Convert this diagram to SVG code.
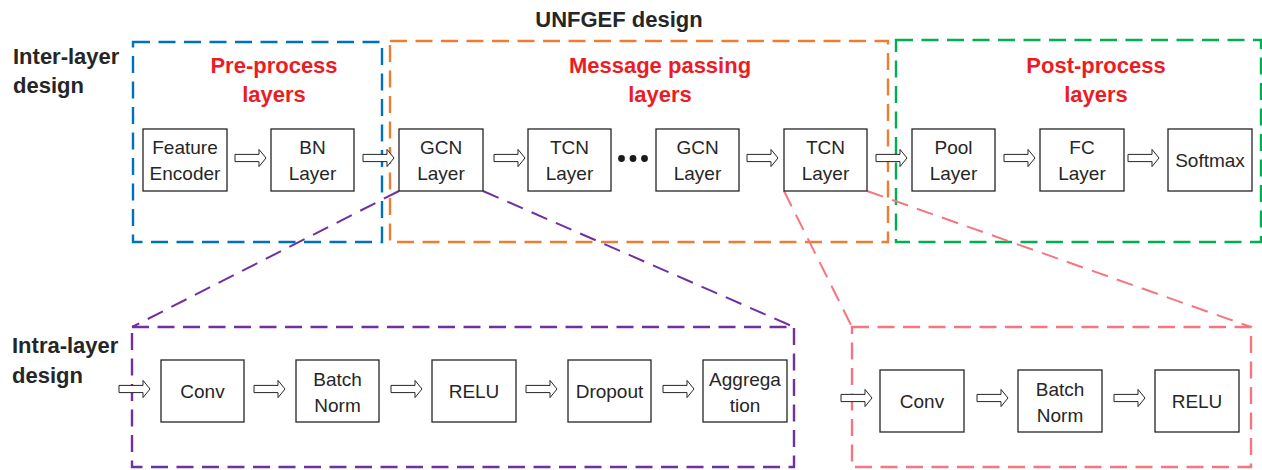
<svg xmlns="http://www.w3.org/2000/svg" width="1262" height="470" viewBox="0 0 1262 470">
<style>
  .lbl{font-family:"Liberation Sans",Arial,sans-serif;font-weight:bold;font-size:22px;fill:#262626}
  .ttl{font-family:"Liberation Sans",Arial,sans-serif;font-weight:bold;font-size:22px;fill:#ED1C24;text-anchor:middle}
  .nt{font-family:"Liberation Sans",Arial,sans-serif;font-size:19px;fill:#262626;text-anchor:middle}
  .nb{fill:#ffffff;stroke:#262626;stroke-width:1.3}
  .grp{fill:none;stroke-width:2.4;stroke-dasharray:17 8.5}
  .arr{fill:#ffffff;stroke:#262626;stroke-width:1}
  .lnk{fill:none;stroke-width:2;stroke-dasharray:17 9.5}
</style>
<defs>
  <path id="ar" d="M0,-3.6 H24 V-8.6 L31,0 L24,8.6 V3.6 H0 Z"/>
</defs>
<rect width="1262" height="470" fill="#ffffff"/>

<g id="labels">
  <text class="lbl" x="619" y="27" text-anchor="middle">UNFGEF design</text>
  <text class="lbl" x="13" y="64">Inter-layer</text>
  <text class="lbl" x="13" y="93">design</text>
  <text class="lbl" x="12" y="353">Intra-layer</text>
  <text class="lbl" x="12" y="383">design</text>
</g>

<g id="group-preprocess">
  <rect class="grp" x="133" y="42" width="249" height="200" stroke="#0070C0"/>
  <text class="ttl" x="274" y="73">Pre-process</text>
  <text class="ttl" x="274" y="102">layers</text>
</g>
<g id="group-message">
  <rect class="grp" x="390" y="41" width="498" height="201" stroke="#ED7D31"/>
  <text class="ttl" x="660" y="73">Message passing</text>
  <text class="ttl" x="660" y="102">layers</text>
</g>
<g id="group-postprocess">
  <rect class="grp" x="896" y="40" width="365" height="202" stroke="#00B050"/>
  <text class="ttl" x="1096" y="73">Post-process</text>
  <text class="ttl" x="1096" y="102">layers</text>
</g>
<g id="group-gcn-detail">
  <rect class="grp" x="132" y="327" width="662" height="140" stroke="#7030A0"/>
</g>
<g id="group-tcn-detail">
  <rect class="grp" x="852" y="327" width="399" height="140" stroke="#F4777F"/>
</g>

<g id="connectors">
  <line class="lnk" x1="399" y1="191" x2="132" y2="327" stroke="#7030A0"/>
  <line class="lnk" x1="483" y1="191" x2="794" y2="327" stroke="#7030A0"/>
  <line class="lnk" x1="784" y1="191" x2="852" y2="327" stroke="#F4777F"/>
  <line class="lnk" x1="867" y1="191" x2="1251" y2="327" stroke="#F4777F"/>
  <use href="#ar" class="arr" x="235" y="158"/>
  <use href="#ar" class="arr" x="363" y="158"/>
  <use href="#ar" class="arr" x="494" y="158"/>
  <use href="#ar" class="arr" x="747" y="158"/>
  <use href="#ar" class="arr" x="876" y="158"/>
  <use href="#ar" class="arr" x="1004" y="158"/>
  <use href="#ar" class="arr" x="1128" y="158"/>
  <use href="#ar" class="arr" x="119" y="389"/>
  <use href="#ar" class="arr" x="254" y="389"/>
  <use href="#ar" class="arr" x="391" y="389"/>
  <use href="#ar" class="arr" x="526" y="389"/>
  <use href="#ar" class="arr" x="663" y="389"/>
  <use href="#ar" class="arr" x="841" y="398"/>
  <use href="#ar" class="arr" x="977" y="398"/>
  <use href="#ar" class="arr" x="1114" y="398"/>
</g>

<g id="dots" fill="#1a1a1a">
  <circle cx="621.5" cy="158.5" r="3.4"/>
  <circle cx="633" cy="158.5" r="3.4"/>
  <circle cx="644.5" cy="158.5" r="3.4"/>
</g>

<g id="n-feature"><rect class="nb" x="143" y="129" width="84" height="62"/><text class="nt" x="185" y="154">Feature</text><text class="nt" x="185" y="180">Encoder</text></g>
<g id="n-bn"><rect class="nb" x="271" y="129" width="83" height="62"/><text class="nt" x="312.5" y="154">BN</text><text class="nt" x="312.5" y="180">Layer</text></g>
<g id="n-gcn1"><rect class="nb" x="399" y="129" width="84" height="62"/><text class="nt" x="441" y="154">GCN</text><text class="nt" x="441" y="180">Layer</text></g>
<g id="n-tcn1"><rect class="nb" x="528" y="129" width="83" height="62"/><text class="nt" x="569.5" y="154">TCN</text><text class="nt" x="569.5" y="180">Layer</text></g>
<g id="n-gcn2"><rect class="nb" x="656" y="129" width="83" height="62"/><text class="nt" x="697.5" y="154">GCN</text><text class="nt" x="697.5" y="180">Layer</text></g>
<g id="n-tcn2"><rect class="nb" x="784" y="129" width="83" height="62"/><text class="nt" x="825.5" y="154">TCN</text><text class="nt" x="825.5" y="180">Layer</text></g>
<g id="n-pool"><rect class="nb" x="912" y="129" width="83" height="62"/><text class="nt" x="953.5" y="154">Pool</text><text class="nt" x="953.5" y="180">Layer</text></g>
<g id="n-fc"><rect class="nb" x="1040" y="129" width="84" height="62"/><text class="nt" x="1082" y="154">FC</text><text class="nt" x="1082" y="180">Layer</text></g>
<g id="n-softmax"><rect class="nb" x="1168" y="129" width="84" height="62"/><text class="nt" x="1210" y="167">Softmax</text></g>

<g id="n-g-conv"><rect class="nb" x="161" y="360" width="83" height="62"/><text class="nt" x="202.5" y="398">Conv</text></g>
<g id="n-g-bn"><rect class="nb" x="296" y="360" width="83" height="62"/><text class="nt" x="337.5" y="386">Batch</text><text class="nt" x="337.5" y="412">Norm</text></g>
<g id="n-g-relu"><rect class="nb" x="432" y="360" width="84" height="62"/><text class="nt" x="474" y="398">RELU</text></g>
<g id="n-g-dropout"><rect class="nb" x="568" y="360" width="83" height="62"/><text class="nt" x="609.5" y="398">Dropout</text></g>
<g id="n-g-agg"><rect class="nb" x="703" y="360" width="84" height="62"/><text class="nt" x="745" y="386">Aggrega</text><text class="nt" x="745" y="412">tion</text></g>

<g id="n-t-conv"><rect class="nb" x="880" y="370" width="84" height="62"/><text class="nt" x="922" y="408">Conv</text></g>
<g id="n-t-bn"><rect class="nb" x="1018" y="370" width="84" height="62"/><text class="nt" x="1060" y="396">Batch</text><text class="nt" x="1060" y="422">Norm</text></g>
<g id="n-t-relu"><rect class="nb" x="1155" y="370" width="84" height="62"/><text class="nt" x="1197" y="408">RELU</text></g>
</svg>
